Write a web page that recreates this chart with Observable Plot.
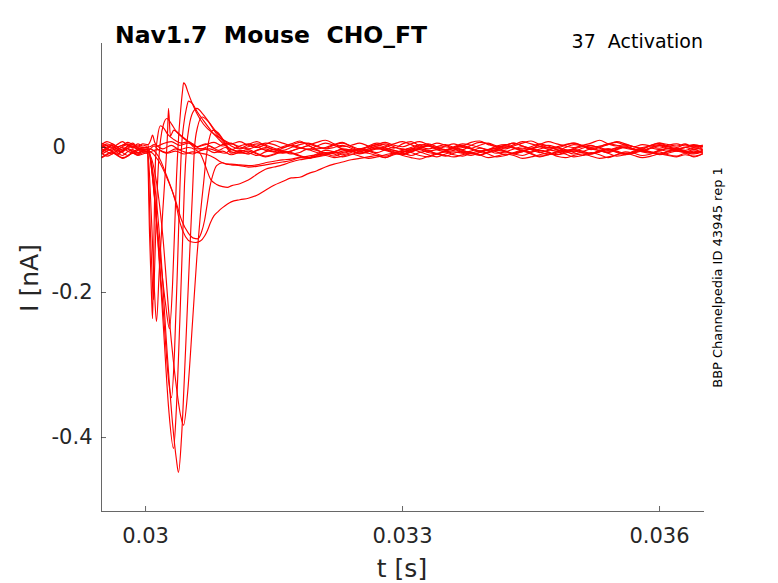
<!DOCTYPE html>
<html><head><meta charset="utf-8">
<script src="https://cdn.jsdelivr.net/npm/d3@7"></script>
<script src="https://cdn.jsdelivr.net/npm/@observablehq/plot@0.6"></script>
<style>body{margin:0;background:#fff} svg{display:block}</style>
</head><body><div id="chart"></div>
<script>
// ---- axes / text ----
const titleText = "Nav1.7  Mouse  CHO_FT";
const protocolText = "37  Activation";
const sideText = "BBP Channelpedia ID 43945 rep 1";
const xLabel = "t [s]";
const yLabel = "I [nA]";
const xDomain = [29.486, 36.525];       // time in ms
const yDomain = [-0.502, 0.1434];       // current in nA
const xTicks = [30, 33, 36];
const xTickLabels = ["0.03", "0.033", "0.036"];
const yTicks = [-0.4, -0.2, 0];
const yTickLabels = ["-0.4", "-0.2", "0\u2007\u2007"];

// ---- shared time grids (ms) ----
const tPre = [29.49,29.55,29.61,29.67,29.73,29.79,29.85,29.91,29.97];
const tTail = [31.0,31.1,31.2,31.3,31.4,31.5,31.6,31.7,31.8,31.9,32.0,32.1,32.2,32.3,32.4,32.5,32.6,32.7,32.8,32.9,33.0,33.1,33.2,33.3,33.4,33.5,33.6,33.7,33.8,33.9,34.0,34.1,34.2,34.3,34.4,34.5,34.6,34.7,34.8,34.9,35.0,35.1,35.2,35.3,35.4,35.5,35.6,35.7,35.8,35.9,36.0,36.1,36.2,36.3,36.4,36.5];

// ---- traces: pre-pulse baseline (pA), transient [ms, nA], tail (pA) ----
const preA = [3,-2,5,1,-4,2,6,0,-1];
const headA = [[30.02,0.001],[30.047,-0.12],[30.07,-0.205],[30.082,-0.236],[30.093,-0.165],[30.105,-0.075],[30.117,-0.015],[30.14,0.014],[30.175,0.03],[30.21,0.027],[30.26,0.018],[30.33,0.011],[30.42,0.006],[30.5,0.008],[30.6,0.001],[30.7,0.005],[30.8,-0.001],[30.9,0.004]];
const tailA = [6,-1,4,8,2,-3,1,5,9,3,-2,0,4,7, 1,-4,2,6,3,-1,5,8,2,-2,1,4,0,-3, 3,7,5,1,-2,2,6,9,4,0,-1,3,6,2, -3,0,4,8,5,1,-1,3,6,2,0,4,1,3];

const preB = [-4,0,3,-2,-6,-1,2,-3,0];
const headB = [[30.02,-0.001],[30.058,-0.12],[30.082,-0.19],[30.093,-0.21],[30.105,-0.17],[30.128,-0.085],[30.15,-0.025],[30.175,0.01],[30.21,0.032],[30.25,0.04],[30.3,0.033],[30.36,0.022],[30.45,0.012],[30.55,0.005],[30.65,-0.002],[30.75,0.002],[30.85,-0.004],[30.93,0.0]];
const tailB = [-3,2,5,1,-4,-6,-1,3,0,-3,2,6,3,-2, -5,-2,1,4,0,-4,-7,-2,2,5,1,-3,0,3, -1,-5,-3,2,4,0,-2,1,5,2,-3,-6,-2,1, 3,-1,-4,0,2,-2,-5,-1,3,1,-2,0,-3,1];

const preB2 = [-9,-5,-2,-7,-11,-6,-3,-8,-4];
const headB2 = [[30.025,-0.006],[30.07,-0.1],[30.105,-0.2],[30.128,-0.24],[30.16,-0.17],[30.2,-0.09],[30.233,-0.03],[30.257,0.02],[30.268,0.054],[30.29,0.016],[30.33,0.024],[30.4,0.018],[30.5,0.008],[30.6,-0.002],[30.7,-0.002],[30.8,-0.007],[30.9,-0.005]];
const tailB2 = [-10,-6,-3,-8,-12,-9,-5,-7,-11,-14,-9,-4,-6,-10, -7,-3,-5,-9,-12,-8,-4,-2,-6,-10,-13,-9,-6,-8, -11,-7,-3,-6,-10,-8,-5,-9,-13,-10,-6,-4,-7,-11, -9,-5,-8,-12,-10,-6,-3,-7,-10,-8,-5,-7,-9,-6];

const preC = [6,2,-1,4,8,3,0,5,2];
const headC = [[30.025,0.004],[30.07,-0.03],[30.117,-0.085],[30.175,-0.155],[30.233,-0.215],[30.28,-0.25],[30.315,-0.19],[30.339,-0.115],[30.362,-0.04],[30.385,0.012],[30.409,0.05],[30.432,0.078],[30.444,0.089],[30.467,0.086],[30.49,0.078],[30.537,0.063],[30.595,0.048],[30.677,0.032],[30.794,0.019],[30.934,0.009]];
const tailC = [5,8,3,0,4,9,6,2,-1,3,7,10,5,1, 3,6,2,-2,1,5,8,4,0,2,6,3,-1,2, 7,9,4,1,3,6,2,-1,4,8,5,2,0,3, 6,10,5,2,4,1,-2,3,6,4,2,5,0,3];

const preD = [-2,-6,-9,-3,0,-5,-8,-4,-2];
const headD = [[30.03,-0.003],[30.082,-0.04],[30.14,-0.12],[30.21,-0.23],[30.268,-0.32],[30.303,-0.345],[30.339,-0.28],[30.374,-0.16],[30.40,-0.06],[30.42,0.0],[30.444,0.03],[30.479,0.055],[30.502,0.064],[30.55,0.06],[30.6,0.05],[30.677,0.037],[30.76,0.024],[30.85,0.012],[30.93,0.003]];
const tailD = [-2,-6,-9,-4,0,-3,-7,-5,-1,2,-3,-8,-6,-2, -4,-8,-5,0,-2,-6,-9,-4,-1,-5,-3,1,-2,-7, -5,-1,-4,-8,-6,-2,1,-3,-7,-4,0,-5,-9,-6, -2,-4,-7,-3,0,-2,-6,-8,-4,-1,-3,-5,-7,-4];

const preE = [1,5,2,-2,1,4,-1,2,0];
const headE = [[30.03,0.0],[30.093,-0.05],[30.15,-0.14],[30.21,-0.25],[30.27,-0.36],[30.327,-0.415],[30.36,-0.36],[30.40,-0.24],[30.432,-0.13],[30.455,-0.05],[30.479,0.0],[30.51,0.03],[30.55,0.048],[30.6,0.054],[30.67,0.046],[30.76,0.032],[30.85,0.018],[30.93,0.008]];
const tailE = [2,-2,1,5,3,-1,-4,0,4,6,2,-2,0,3, -1,-5,-2,2,5,1,-3,0,4,2,-2,-4,1,5, 3,0,-3,-1,3,6,2,-1,1,-3,-5,0,4,2, -2,1,5,3,-1,-3,0,2,4,1,-2,0,3,1];

const preF = [-7,-3,-6,-10,-5,-2,-7,-9,-5];
const headF = [[30.035,-0.006],[30.105,-0.05],[30.175,-0.14],[30.245,-0.27],[30.315,-0.38],[30.36,-0.43],[30.385,-0.448],[30.42,-0.4],[30.467,-0.28],[30.514,-0.15],[30.549,-0.06],[30.572,0.0],[30.607,0.028],[30.66,0.042],[30.73,0.036],[30.82,0.02],[30.92,0.006]];
const tailF = [-8,-4,-7,-11,-6,-3,-5,-9,-7,-2,-4,-8,-12,-7, -5,-9,-6,-2,-4,-8,-10,-6,-3,-7,-9,-5,-1,-4, -8,-11,-7,-4,-6,-9,-5,-2,-6,-10,-8,-4,-3,-7, -9,-6,-2,-5,-8,-7,-4,-6,-9,-5,-3,-6,-8,-5];

const preG = [-14,-10,-7,-11,-15,-12,-8,-10,-7];
const headG = [[30.04,-0.009],[30.117,-0.04],[30.2,-0.12],[30.28,-0.24],[30.36,-0.33],[30.41,-0.37],[30.444,-0.383],[30.49,-0.34],[30.549,-0.24],[30.6,-0.15],[30.642,-0.09],[30.677,-0.05],[30.71,-0.012],[30.74,0.01],[30.79,0.024],[30.85,0.02],[30.93,0.006]];
const tailG = [-6,-8,-5,-9,-13,-10,-6,-8,-12,-15,-11,-7,-9,-13, -10,-6,-8,-11,-14,-9,-5,-7,-11,-13,-9,-6,-10,-12, -8,-5,-9,-13,-11,-7,-4,-8,-12,-10,-6,-9,-13,-11, -7,-10,-14,-10,-6,-8,-11,-9,-6,-10,-12,-8,-13,-9];

const preW2 = [-1,3,0,-4,-2,1,4,-1,-3];
const headW2 = [[30.05,-0.002],[30.15,-0.012],[30.25,-0.04],[30.35,-0.073],[30.42,-0.1],[30.5,-0.118],[30.56,-0.125],[30.607,-0.126],[30.65,-0.118],[30.69,-0.1],[30.72,-0.078],[30.75,-0.055],[30.79,-0.036],[30.83,-0.025],[30.9,-0.021],[30.95,-0.023]];
const tailW2 = [-24,-25,-27,-26,-24,-22,-20,-18,-14,-12,-10,-9,-6,-8, -5,-2,-4,-7,-3,0,-2,-5,-1,2,-3,-6,-4,0, -2,-5,-7,-3,1,-1,-4,-6,-2,0,-3,-5,-1,2, -2,-4,-6,-2,0,-3,-5,-1,-3,-5,-2,-4,-1,-3];

const preW1 = [-8,-12,-9,-5,-7,-11,-6,-3,-6];
const headW1 = [[30.05,-0.006],[30.15,-0.018],[30.25,-0.042],[30.35,-0.075],[30.40,-0.103],[30.467,-0.123],[30.53,-0.13],[30.584,-0.131],[30.64,-0.129],[30.69,-0.122],[30.724,-0.114],[30.76,-0.103],[30.80,-0.094],[30.85,-0.088],[30.899,-0.083],[30.957,-0.078]];
const tailW1 = [-75,-72,-70,-66,-59,-52,-47,-42,-41,-36,-32,-27,-23,-20, -17,-15,-13,-11,-14,-10,-8,-11,-7,-5,-9,-12,-8,-5, -7,-10,-6,-3,-5,-9,-11,-7,-4,-6,-10,-8,-5,-7, -9,-6,-3,-7,-10,-8,-5,-7,-9,-6,-4,-7,-5,-8];

const preU = [2,-1,-4,0,3,5,1,-2,0];
const headU = [[30.05,0.001],[30.1,0.004],[30.2,-0.002],[30.3,0.003],[30.4,-0.003],[30.5,0.0],[30.58,-0.003],[30.642,-0.009],[30.70,-0.026],[30.76,-0.044],[30.83,-0.051],[30.9,-0.054],[30.957,-0.055]];
const tailU = [-53,-50,-45,-37,-30,-27,-24,-20,-17,-15,-12,-10,-8,-5, -3,-6,-2,1,-1,-4,-6,-2,0,3,-1,-3,0,2, -2,-5,-3,0,2,-1,-4,-2,1,3,0,-3,-5,-1, 2,0,-3,-1,1,-2,-4,0,2,-1,-3,0,1,-2];

const preS1 = [-13,-9,-6,-10,-14,-12,-8,-11,-9];
const headS1 = [[30.05,-0.006],[30.15,-0.003],[30.25,-0.008],[30.35,-0.005],[30.45,-0.009],[30.55,-0.006],[30.65,-0.008],[30.724,-0.01],[30.80,-0.014],[30.88,-0.02],[30.95,-0.023]];
const tailS1 = [-23,-24,-25,-24,-21,-19,-17,-16,-14,-15,-13,-11,-14,-12, -9,-12,-15,-13,-10,-8,-11,-14,-16,-12,-9,-11,-13,-10, -7,-10,-14,-12,-9,-11,-15,-13,-10,-8,-12,-14,-11,-9, -12,-15,-13,-10,-8,-11,-14,-12,-9,-11,-13,-10,-12,-9];

const preS0 = [4,8,5,1,3,7,4,2,5];
const headS0 = [[30.03,0.004],[30.06,0.01],[30.082,0.017],[30.105,0.008],[30.14,0.002],[30.2,0.005],[30.3,0.008],[30.4,0.003],[30.5,0.006],[30.6,0.001],[30.7,0.004],[30.8,0.007],[30.9,0.002]];
const tailS0 = [5,1,-2,2,6,4,0,3,7,5,1,-1,3,6, 2,-2,0,4,7,3,1,5,8,4,0,2,5,1, -1,3,6,2,0,4,8,5,2,-1,1,4,6,3, 0,2,5,7,3,1,4,2,-1,3,5,2,4,1];

const preS00 = [-6,-2,-5,-9,-4,-1,-5,-7,-3];
const headS00 = [[30.03,-0.004],[30.1,0.002],[30.15,-0.003],[30.25,-0.007],[30.35,-0.002],[30.45,-0.006],[30.55,-0.009],[30.65,-0.004],[30.75,-0.002],[30.85,-0.006],[30.93,-0.008]];
const tailS00 = [-3,-7,-9,-4,-2,-6,-8,-5,-1,-3,-7,-10,-6,-3, -5,-8,-4,-1,-3,-7,-9,-6,-2,-4,-8,-5,-2,-6, -9,-7,-3,-1,-5,-8,-6,-2,-4,-7,-10,-6,-3,-5, -8,-4,-2,-6,-9,-5,-3,-7,-4,-2,-5,-6,-3,-7];

// ---- build table ----
function build(name, pre, head, tail) {
  const rows = [];
  pre.forEach((v, i) => { if (i < tPre.length) rows.push({trace: name, t: tPre[i], I: v / 1000}); });
  head.forEach(([t, v]) => rows.push({trace: name, t, I: v}));
  tail.forEach((v, i) => { if (i < tTail.length) rows.push({trace: name, t: tTail[i], I: v / 1000}); });
  return rows;
}
const data = [
  ...build("a", preA, headA, tailA),
  ...build("b", preB, headB, tailB),
  ...build("b2", preB2, headB2, tailB2),
  ...build("c", preC, headC, tailC),
  ...build("d", preD, headD, tailD),
  ...build("e", preE, headE, tailE),
  ...build("f", preF, headF, tailF),
  ...build("g", preG, headG, tailG),
  ...build("w2", preW2, headW2, tailW2),
  ...build("w1", preW1, headW1, tailW1),
  ...build("u", preU, headU, tailU),
  ...build("s1", preS1, headS1, tailS1),
  ...build("s0", preS0, headS0, tailS0),
  ...build("s00", preS00, headS00, tailS00)
];

const W = 778, H = 583;
const mL = 101, mR = 74, mT = 43, mB = 72;
const axisColor = "#262626";

const plot = Plot.plot({
  width: W, height: H,
  marginLeft: mL, marginRight: mR, marginTop: mT, marginBottom: mB,
  style: {fontFamily: "DejaVu Sans", fontSize: "21px", color: "#262626", background: "#fff", overflow: "visible"},
  x: {domain: xDomain},
  y: {domain: yDomain},
  marks: [
    Plot.line(data, {x: "t", y: "I", z: "trace", stroke: "#ff0000", strokeWidth: 1.15, curve: "monotone-x"}),
    Plot.ruleX([xDomain[0]], {stroke: axisColor, strokeOpacity: 0.7}),
    Plot.ruleY([yDomain[0]], {stroke: axisColor, strokeOpacity: 0.7}),
    Plot.tickX(xTicks, {x: d => d, insetTop: H - mT - mB - 5, stroke: axisColor, strokeOpacity: 0.7}),
    Plot.tickY(yTicks, {y: d => d, insetRight: W - mL - mR - 5, stroke: axisColor, strokeOpacity: 0.7}),
    Plot.axisX(xTicks, {tickSize: 0, tickPadding: 17, label: null, fontSize: 21,
      tickFormat: d => xTickLabels[xTicks.indexOf(d)]}),
    Plot.axisY(yTicks, {tickSize: 0, tickPadding: 9, label: null, fontSize: 21,
      tickFormat: d => yTickLabels[yTicks.indexOf(d)]})
  ]
});

const svg = d3.select(plot);
svg.append("text").attr("x", 115).attr("y", 43).attr("text-anchor", "start")
  .attr("font-family", "DejaVu Sans").attr("font-weight", "bold").attr("font-size", 23.5)
  .attr("fill", "#000").style("white-space", "pre").text(titleText);
svg.append("text").attr("x", 703).attr("y", 48).attr("text-anchor", "end")
  .attr("font-family", "DejaVu Sans").attr("font-size", 19)
  .attr("fill", "#000").style("white-space", "pre").text(protocolText);
svg.append("text").attr("transform", "translate(722,277.5) rotate(-90)").attr("text-anchor", "middle")
  .attr("font-family", "DejaVu Sans").attr("font-size", 13)
  .attr("fill", "#000").text(sideText);
svg.append("text").attr("x", 402).attr("y", 577).attr("text-anchor", "middle")
  .attr("font-family", "DejaVu Sans").attr("font-size", 25)
  .attr("fill", "#262626").text(xLabel);
svg.append("text").attr("transform", "translate(38,278) rotate(-90)").attr("text-anchor", "middle")
  .attr("font-family", "DejaVu Sans").attr("font-size", 25)
  .attr("fill", "#262626").text(yLabel);

document.getElementById("chart").appendChild(plot);
</script>
</body></html>
